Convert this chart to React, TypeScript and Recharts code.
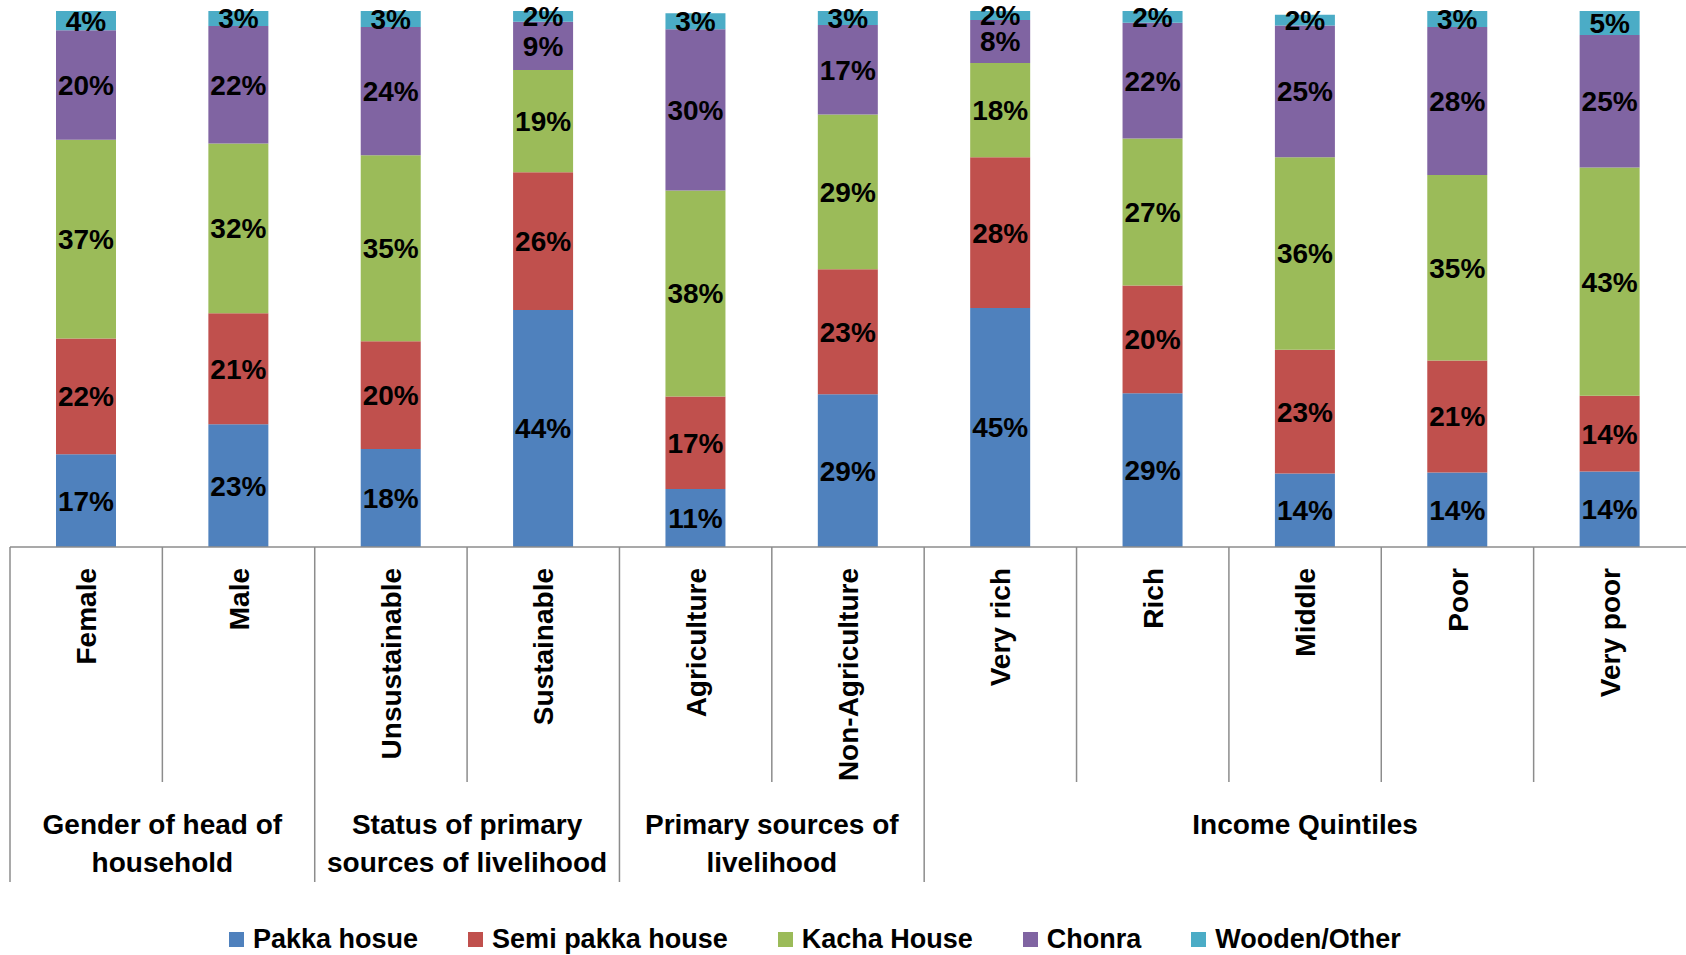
import { BarChart, Bar, XAxis, YAxis, Legend, LabelList } from 'recharts'

const categories = ['Female', 'Male', 'Unsustainable', 'Sustainable', 'Agriculture', 'Non-Agriculture', 'Very rich', 'Rich', 'Middle', 'Poor', 'Very poor']
const pakka = [17.3, 22.9, 18.3, 44.2, 10.8, 28.5, 44.6, 28.7, 13.7, 13.9, 14.1]
const semiPakka = [21.6, 20.7, 20.1, 25.7, 17.3, 23.3, 28.1, 20.1, 23.1, 20.9, 14.1]
const kacha = [37.1, 31.7, 34.7, 19.1, 38.4, 28.9, 17.6, 27.4, 35.9, 34.6, 42.6]
const chonra = [20.4, 21.9, 23.9, 9.0, 30.1, 16.7, 8.0, 21.6, 24.6, 27.6, 24.7]
const wooden = [3.6, 2.8, 3.0, 2.0, 3.0, 2.6, 1.7, 2.2, 2.0, 3.0, 4.5]
const seriesNames = ['Pakka hosue', 'Semi pakka house', 'Kacha House', 'Chonra', 'Wooden/Other']

const groups = [
  { label: ['Gender of head of', 'household'], start: 0, count: 2 },
  { label: ['Status of primary', 'sources of livelihood'], start: 2, count: 2 },
  { label: ['Primary sources of', 'livelihood'], start: 4, count: 2 },
  { label: ['Income Quintiles'], start: 6, count: 5 },
]

const data = categories.map((name, i) => ({
  name,
  pakka: pakka[i],
  semi: semiPakka[i],
  kacha: kacha[i],
  chonra: chonra[i],
  wooden: wooden[i],
}))

const FONT = "'Liberation Sans', Arial, sans-serif"
const GRID = '#8c8c8c'
const pct = (v: any) => `${Math.round(Number(v))}%`

function CategoryTick(props: any) {
  const { x, y, payload, index } = props
  const half = payload?.offset || 76
  const left = x - half
  const group = groups.find((g) => g.start === index)
  return (
    <g>
      <line x1={left} y1={y} x2={left} y2={y + (group ? 335 : 235)} stroke={GRID} strokeWidth={1.5} />
      <text
        x={x}
        y={y + 21}
        dy="0.36em"
        textAnchor="end"
        transform={`rotate(-90, ${x}, ${y + 21})`}
        fontSize={28}
        fontWeight="bold"
        fill="#000"
      >
        {payload.value}
      </text>
      {group && (
        <text
          x={left + (group.count * half * 2) / 2}
          textAnchor="middle"
          fontSize={28}
          fontWeight="bold"
          fill="#000"
        >
          {group.label.map((line, k) => (
            <tspan key={k} x={left + (group.count * half * 2) / 2} y={y + 287 + k * 38}>
              {line}
            </tspan>
          ))}
        </text>
      )}
    </g>
  )
}

function LegendContent(props: any) {
  const items = [...(props.payload || [])].sort(
    (a: any, b: any) => seriesNames.indexOf(a.value) - seriesNames.indexOf(b.value)
  )
  return (
    <div style={{ display: 'flex', alignItems: 'center', paddingLeft: 229 }}>
      {items.map((e: any) => (
        <span key={e.value} style={{ display: 'inline-flex', alignItems: 'center', marginRight: 50 }}>
          <span style={{ width: 15, height: 15, background: e.color, marginRight: 9, display: 'inline-block' }} />
          <span style={{ fontSize: 27, fontWeight: 'bold', color: '#000' }}>{e.value}</span>
        </span>
      ))}
    </div>
  )
}

const labelStyle = { fontSize: 28, fontWeight: 'bold', fill: '#000' }

export default function App() {
  return (
    <div style={{ position: 'absolute', left: 0, top: 0, width: 1686, height: 955, background: '#fff', fontFamily: FONT }}>
      <BarChart width={1686} height={955} data={data} margin={{ top: 11, right: 0, bottom: 0, left: 10 }} barSize={60}>
        <XAxis
          dataKey="name"
          height={408}
          interval={0}
          tickLine={false}
          tickSize={0}
          tickMargin={0}
          axisLine={{ stroke: GRID, strokeWidth: 1.5 }}
          tick={<CategoryTick />}
        />
        <YAxis hide domain={[0, 100]} allowDataOverflow />
        <Legend
          verticalAlign="middle"
          align="center"
          content={<LegendContent />}
          wrapperStyle={{ top: 924, left: 0, width: 1686, height: 38 }}
        />
        <Bar dataKey="pakka" name={seriesNames[0]} stackId="a" fill="#4F81BD" isAnimationActive={false}>
          <LabelList dataKey="pakka" position="center" formatter={pct} style={labelStyle} />
        </Bar>
        <Bar dataKey="semi" name={seriesNames[1]} stackId="a" fill="#C0504D" isAnimationActive={false}>
          <LabelList dataKey="semi" position="center" formatter={pct} style={labelStyle} />
        </Bar>
        <Bar dataKey="kacha" name={seriesNames[2]} stackId="a" fill="#9BBB59" isAnimationActive={false}>
          <LabelList dataKey="kacha" position="center" formatter={pct} style={labelStyle} />
        </Bar>
        <Bar dataKey="chonra" name={seriesNames[3]} stackId="a" fill="#8064A2" isAnimationActive={false}>
          <LabelList dataKey="chonra" position="center" formatter={pct} style={labelStyle} />
        </Bar>
        <Bar dataKey="wooden" name={seriesNames[4]} stackId="a" fill="#4BACC6" isAnimationActive={false}>
          <LabelList dataKey="wooden" position="center" formatter={pct} style={labelStyle} />
        </Bar>
      </BarChart>
    </div>
  )
}
